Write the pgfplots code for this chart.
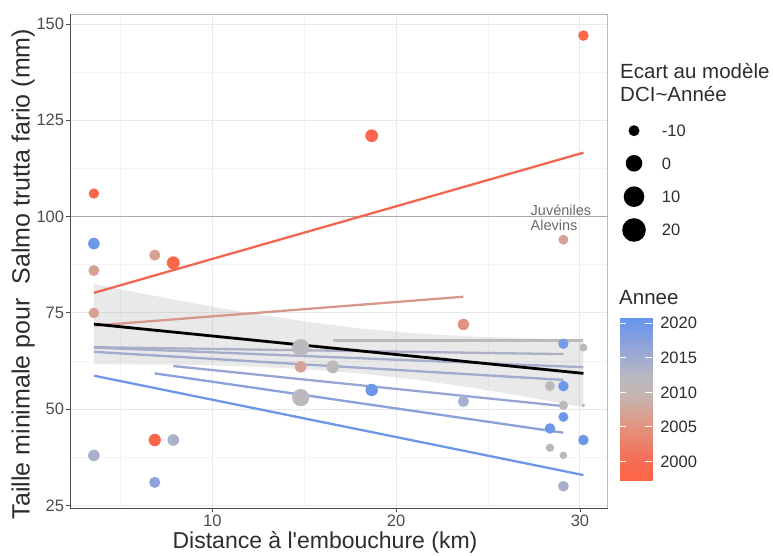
\documentclass[border=0pt]{standalone}
\usepackage{pgfplots}
\pgfplotsset{compat=1.18}
\usepackage{fontspec}
\setmainfont{Liberation Sans}
\definecolor{gridmaj}{RGB}{233,233,233}
\definecolor{gridmin}{RGB}{244,244,244}
\definecolor{bordergrey}{RGB}{185,185,185}
\definecolor{tickgrey}{RGB}{77,77,77}
\definecolor{legtext}{RGB}{45,45,45}
\definecolor{hgrey}{RGB}{170,170,170}
\definecolor{annot}{RGB}{105,105,105}
\definecolor{ribbon}{RGB}{153,153,153}
\definecolor{lred}{RGB}{240,102,80}
\definecolor{ltan}{RGB}{214,152,138}
\definecolor{lgrey}{RGB}{190,186,186}
\definecolor{lP}{RGB}{172,176,198}
\definecolor{lPp}{RGB}{166,173,202}
\definecolor{lQ}{RGB}{160,170,207}
\definecolor{lR}{RGB}{150,165,212}
\definecolor{lS}{RGB}{138,160,218}
\definecolor{lT}{RGB}{108,151,232}

\pgfplotstableread{
d v yr r
3.56 106 1998 5.2
3.56 93 2020 5.8
3.56 86 2007 5.5
3.56 75 2007 5.3
3.56 38 2014 5.8
6.87 90 2007 5.6
7.88 88 1998 6.5
6.87 42 1998 6.2
7.88 42 2014 5.8
6.87 31 2017 5.6
14.81 66 2011.5 8.6
14.81 61 2007 5.8
16.55 61 2011.5 6.4
14.81 53 2011.5 8.6
18.67 121 1998 6.4
18.67 55 2020 6.2
23.66 72 2005 5.7
23.66 52 2014 5.6
30.19 147 1998 5.3
29.1 94 2007 5.0
29.1 67 2019 5.2
30.19 66 2011.5 4.0
28.37 56 2011.5 5.0
29.1 56 2020 5.3
29.1 51 2011.5 4.6
30.19 51 2011.5 1.9
29.1 48 2020 5.0
28.37 45 2020 5.3
30.19 42 2020 5.3
28.37 40 2011.5 4.2
29.1 38 2011.5 3.8
29.1 30 2014 5.4
}\points

\begin{document}
\begin{tikzpicture}[x=1pt,y=1pt]
\begin{axis}[
  at={(70pt,48pt)}, anchor=south west,
  scale only axis, width=537.7pt, height=494pt,
  xmin=2.26, xmax=31.51, ymin=24.35, ymax=152.6,
  xtick={10,20,30}, ytick={25,50,75,100,125,150},
  minor xtick={5,15,25}, minor ytick={37.5,62.5,87.5,112.5,137.5},
  grid=both,
  major grid style={draw=gridmaj, line width=0.9pt},
  minor grid style={draw=gridmin, line width=0.6pt},
  axis line style={draw=bordergrey, line width=0.8pt},
  tick align=outside, xtick pos=bottom, ytick pos=left,
  major tick length=3.7pt, minor tick length=0pt,
  tick style={draw=tickgrey, line width=0.8pt},
  ticklabel style={font=\fontsize{16.5}{18}\selectfont, text=tickgrey},
  yticklabel style={inner xsep=2pt},
  xticklabel style={inner ysep=1pt, yshift=-2.5pt},
  /pgf/number format/assume math mode=true,
  colormap={annee}{rgb255(0pt)=(255,99,71); rgb255(2.8pt)=(246,108,84); rgb255(7.8pt)=(226,146,126); rgb255(11.8pt)=(200,178,172); rgb255(14.8pt)=(186,186,192); rgb255(18.8pt)=(152,166,214); rgb255(23.6pt)=(100,149,237)},
  point meta min=1997.2, point meta max=2020.8,
  colorbar,
  colorbar/width=32.7pt,
  colorbar style={
    at={(parent axis.south east)}, anchor=south west,
    xshift=3.8pt, yshift=27pt,
    scale only axis, height=163.3pt,
    ytick={2000,2005,2010,2015,2020},
    yticklabel pos=right,
    axis line style={draw=none},
    ytick style={draw=none},
    yticklabel style={font=\fontsize{16.5}{18}\selectfont, text=legtext, /pgf/number format/1000 sep={}, /pgf/number format/assume math mode=true, xshift=4pt},
  },
  clip mode=individual,
]
% ribbon
\addplot[draw=none, fill=ribbon, fill opacity=0.22] coordinates {
(3.56,82.5) (6,80.2) (9,77.5) (12,75.0) (15,72.8) (18,71.0) (21,69.7) (24,68.9) (27,68.4) (30.19,68.2)
(30.19,50.5) (27,53.3) (24,55.7) (21,57.7) (18,59.3) (15,60.4) (12,61.1) (9,61.5) (6,61.6) (3.56,61.7)
} -- cycle;
% threshold line
\addplot[draw=hgrey, line width=1.1pt] coordinates {(2.26,100) (31.51,100)};
% per-year regression lines
\addplot[draw=lred, line width=2.3pt] coordinates {(3.56,80.2) (30.19,116.6)};
\addplot[draw=ltan, line width=2.3pt] coordinates {(3.56,71.7) (23.66,79.2)};
\addplot[draw=lgrey, line width=2.3pt] coordinates {(16.55,67.8) (30.19,67.8)};
\addplot[draw=lP, line width=2.3pt] coordinates {(3.56,66.1) (29.1,64.3)};
\addplot[draw=lPp, line width=2.3pt] coordinates {(3.56,66.0) (30.19,60.9)};
\addplot[draw=lQ, line width=2.3pt] coordinates {(3.56,64.9) (29.1,57.6)};
\addplot[draw=lR, line width=2.3pt] coordinates {(7.88,61.2) (29.1,50.8)};
\addplot[draw=lS, line width=2.3pt] coordinates {(6.87,59.3) (29.1,43.9)};
\addplot[draw=lT, line width=2.3pt] coordinates {(3.56,58.7) (30.19,32.9)};
% global model
\addplot[draw=black, line width=2.8pt] coordinates {(3.56,72.1) (30.19,59.3)};
% points
\addplot[scatter, only marks, mark=*, point meta=explicit,
  visualization depends on={\thisrow{r} \as \prad},
  scatter/use mapped color={draw opacity=0, fill=mapped color},
  scatter/@pre marker code/.append style={/tikz/mark size=\prad pt}]
  table[x=d, y=v, meta=yr] {\points};
\node[anchor=base west, font=\fontsize{14.5}{16}\selectfont, text=annot, inner sep=0pt] at (axis cs:27.31,100.4) {Juvéniles};
\node[anchor=base west, font=\fontsize{14.5}{16}\selectfont, text=annot, inner sep=0pt] at (axis cs:27.31,96.5) {Alevins};
\draw[tickgrey, line width=0.8pt] (rel axis cs:0,1) -- (rel axis cs:0,0) -- (rel axis cs:1,0);
\end{axis}
% colourbar tick marks (white, inside the bar)
\foreach \yy in {94.3,129.0,163.6,198.3,232.9} {
  \draw[white, line width=1pt] (619,\yy) -- (625.5,\yy);
  \draw[white, line width=1pt] (645.2,\yy) -- (651.7,\yy);
}
% axis titles
\node[anchor=base, font=\fontsize{23}{26}\selectfont, text=legtext, inner sep=0pt] at (325,7.5) {Distance à l\textquotesingle embouchure (km)};
\node[anchor=base, rotate=90, font=\fontsize{25}{28}\selectfont, text=legtext, inner sep=0pt] at (29.5,282) {Taille minimale pour\ \ Salmo trutta fario (mm)};
% size legend
\node[anchor=base west, font=\fontsize{20.5}{23}\selectfont, text=legtext, inner sep=0pt] at (620,477.7) {Ecart au modèle};
\node[anchor=base west, font=\fontsize{20.5}{23}\selectfont, text=legtext, inner sep=0pt] at (620,454.3) {DCI\textasciitilde Année};
\fill[black] (634,425.3) circle (5.5);
\fill[black] (634,392.7) circle (8.3);
\fill[black] (634,359.3) circle (10.3);
\fill[black] (634,326) circle (11.8);
\node[anchor=base west, font=\fontsize{16.5}{18}\selectfont, text=legtext, inner sep=0pt] at (661.7,419.4) {-10};
\node[anchor=base west, font=\fontsize{16.5}{18}\selectfont, text=legtext, inner sep=0pt] at (661.7,386.8) {0};
\node[anchor=base west, font=\fontsize{16.5}{18}\selectfont, text=legtext, inner sep=0pt] at (661.7,353.4) {10};
\node[anchor=base west, font=\fontsize{16.5}{18}\selectfont, text=legtext, inner sep=0pt] at (661.7,320.1) {20};
% colour legend title
\node[anchor=base west, font=\fontsize{20.5}{23}\selectfont, text=legtext, inner sep=0pt] at (619,251) {Annee};
\pgfresetboundingbox
\useasboundingbox (0,0) rectangle (773,556);
\end{tikzpicture}
\end{document}
